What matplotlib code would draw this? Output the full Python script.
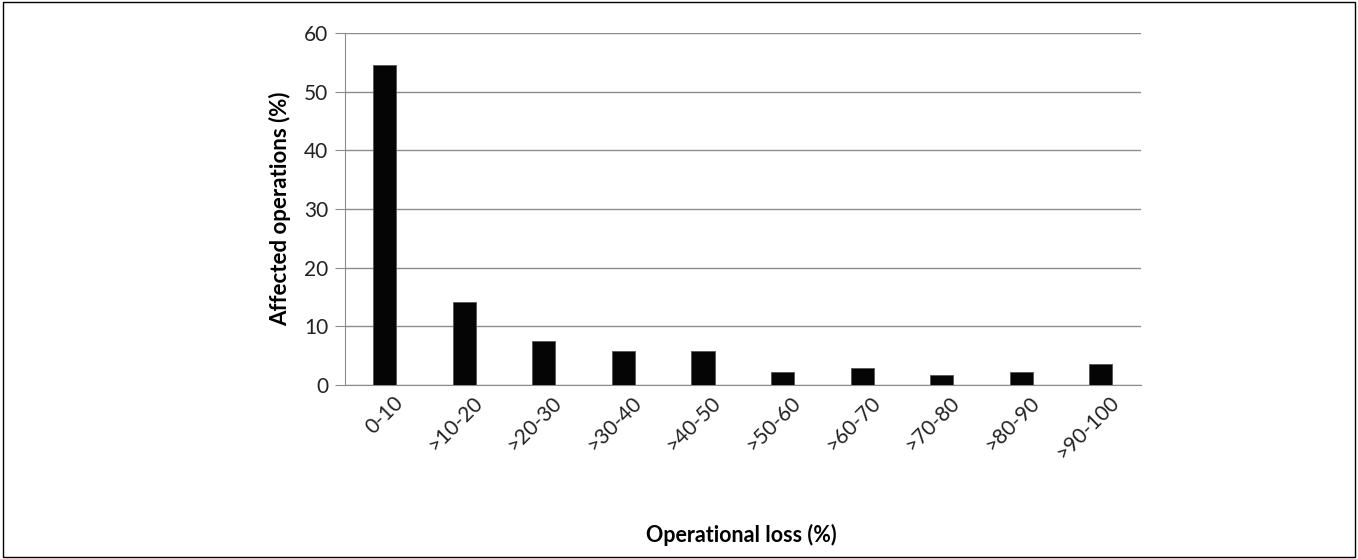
import matplotlib.pyplot as plt
import matplotlib.transforms as mtransforms
import numpy as np

categories = ['0-10', '>10-20', '>20-30', '>30-40', '>40-50',
              '>50-60', '>60-70', '>70-80', '>80-90', '>90-100']
values = [54.5, 14.2, 7.5, 5.8, 5.8, 2.3, 2.9, 1.8, 2.3, 3.6]

plt.rcParams['font.family'] = ['Lato', 'DejaVu Sans']

fig = plt.figure(figsize=(13.58, 5.59), dpi=100, facecolor='white')
ax = fig.add_axes([0.254, 0.311, 0.586, 0.630])

x = np.arange(len(categories))
ax.bar(x, values, width=0.29, color='#050505', edgecolor='#555555', linewidth=0.6, zorder=3)

ax.set_xlim(-0.5, len(categories) - 0.5)
ax.set_ylim(0, 60)
ax.set_yticks(np.arange(0, 61, 10))
ax.yaxis.grid(True, color='#8c8c8c', linewidth=1.0, zorder=0)

ax.set_xticks(x)
ax.set_xticklabels(categories, rotation=45, ha='right', rotation_mode='anchor', fontsize=15)
ax.tick_params(axis='x', length=0, pad=5, colors='#222222')
ax.tick_params(axis='y', length=7, color='#8c8c8c', labelsize=15, pad=5, labelcolor='#222222')

# nudge tick labels right so that they end near bar centre
offset = mtransforms.ScaledTranslation(8 / 100, 0, fig.dpi_scale_trans)
for lbl in ax.get_xticklabels():
    lbl.set_transform(lbl.get_transform() + offset)

for s in ['top', 'right']:
    ax.spines[s].set_visible(False)
ax.spines['left'].set_color('#8c8c8c')
ax.spines['bottom'].set_color('#8c8c8c')

ax.set_ylabel('Affected operations (%)', fontsize=16, fontweight='bold', labelpad=9)
fig.text(0.546, 0.043, 'Operational loss (%)', ha='center', va='center',
         fontsize=15.5, fontweight='bold')

# border round the whole chart
fig.patches.append(plt.Rectangle((0.002, 0.004), 0.996, 0.992, transform=fig.transFigure,
                                 fill=False, edgecolor='black', linewidth=1.0))

plt.savefig('out.png', dpi=100)
plt.close()
